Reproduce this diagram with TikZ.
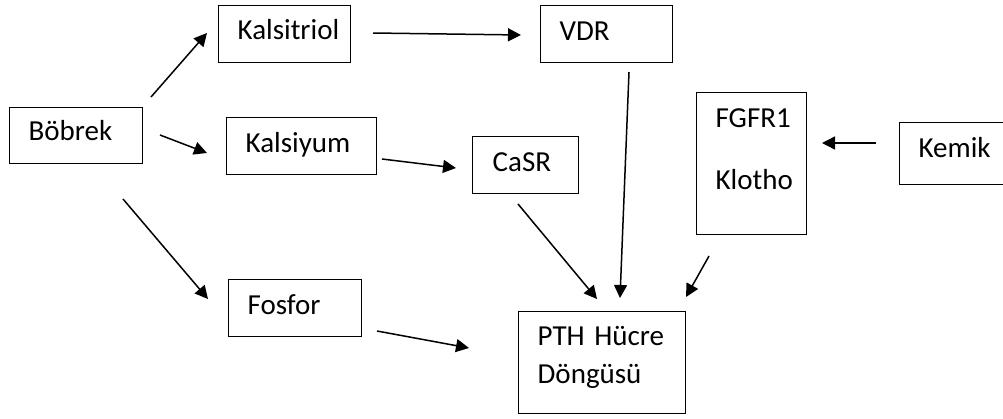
\documentclass[tikz,border=0pt]{standalone}
\usepackage{fontspec}
\setmainfont{Carlito}
\usepackage{tikz}
\usetikzlibrary{arrows.meta}

\begin{document}
\begin{tikzpicture}[x=1pt,y=-1pt,font=\fontsize{29}{36}\selectfont]
      \tikzstyle{arrow} = [line width=1.5pt,->,>={Triangle[length=13pt,width=13pt]}]
      \tikzstyle{box} = [rectangle, draw=black, line width=1.3pt, anchor=north west, inner xsep=19pt, inner ysep=0pt, align=left]
      \useasboundingbox (0,0) rectangle (1003,418);
      % boxes
      \node (bobrek) [box, text width=95pt, text height=33pt, text depth=23pt] at (9,107) {Böbrek};
      \node (kalsitriol) [box, text width=94pt, text height=34pt, text depth=23pt] at (218,5) {Kalsitriol};
      \node (kalsiyum) [box, text width=112pt, text height=35pt, text depth=22pt] at (226,117) {Kalsiyum};
      \node (fosfor) [box, text width=95pt, text height=35pt, text depth=22pt] at (228,279) {Fosfor};
      \node (vdr) [box, text width=94pt, text height=35pt, text depth=22pt] at (540,5) {VDR};
      \node (casr) [box, inner xsep=20pt, text width=66pt, text height=35pt, text depth=22pt] at (472,136) {CaSR};
      \node (fgfr) [box, text width=72pt, text height=35pt, text depth=107pt] at (696,92) {FGFR1\\[26pt]Klotho};
      \node (pth) [box, text width=129pt, text height=34pt, text depth=68pt] at (518,311) {PTH Hücre\\[2pt]Döngüsü};
      \node (kemik) [box, text width=72pt, text height=35pt, text depth=27pt] at (899,122) {Kemik};
      % arrow ends
      \coordinate (bobrek-out-A) at (151,97);
      \coordinate (kalsitriol-in) at (207,33);
      \coordinate (bobrek-out-B) at (160,135);
      \coordinate (kalsiyum-in) at (207,153);
      \coordinate (bobrek-out-C) at (123,199);
      \coordinate (fosfor-in) at (208,299);
      \coordinate (kalsitriol-out) at (373,33);
      \coordinate (vdr-in) at (521,35);
      \coordinate (kalsiyum-out) at (382,159);
      \coordinate (casr-in) at (456,168);
      \coordinate (fosfor-out) at (377,331);
      \coordinate (pth-in-A) at (469,348);
      \coordinate (casr-out) at (518,204);
      \coordinate (pth-in-B) at (597,299);
      \coordinate (vdr-out) at (629,72);
      \coordinate (pth-in-C) at (620,298);
      \coordinate (fgfr-out) at (709,256);
      \coordinate (pth-in-D) at (686,297);
      \coordinate (kemik-out) at (876,143);
      \coordinate (fgfr-in) at (822,143);
      % arrows
      \draw [arrow] (bobrek-out-A) -- (kalsitriol-in);
      \draw [arrow] (bobrek-out-B) -- (kalsiyum-in);
      \draw [arrow] (bobrek-out-C) -- (fosfor-in);
      \draw [arrow] (kalsitriol-out) -- (vdr-in);
      \draw [arrow] (kalsiyum-out) -- (casr-in);
      \draw [arrow] (fosfor-out) -- (pth-in-A);
      \draw [arrow] (casr-out) -- (pth-in-B);
      \draw [arrow] (vdr-out) -- (pth-in-C);
      \draw [arrow] (fgfr-out) -- (pth-in-D);
      \draw [arrow] (kemik-out) -- (fgfr-in);
\end{tikzpicture}
\end{document}
